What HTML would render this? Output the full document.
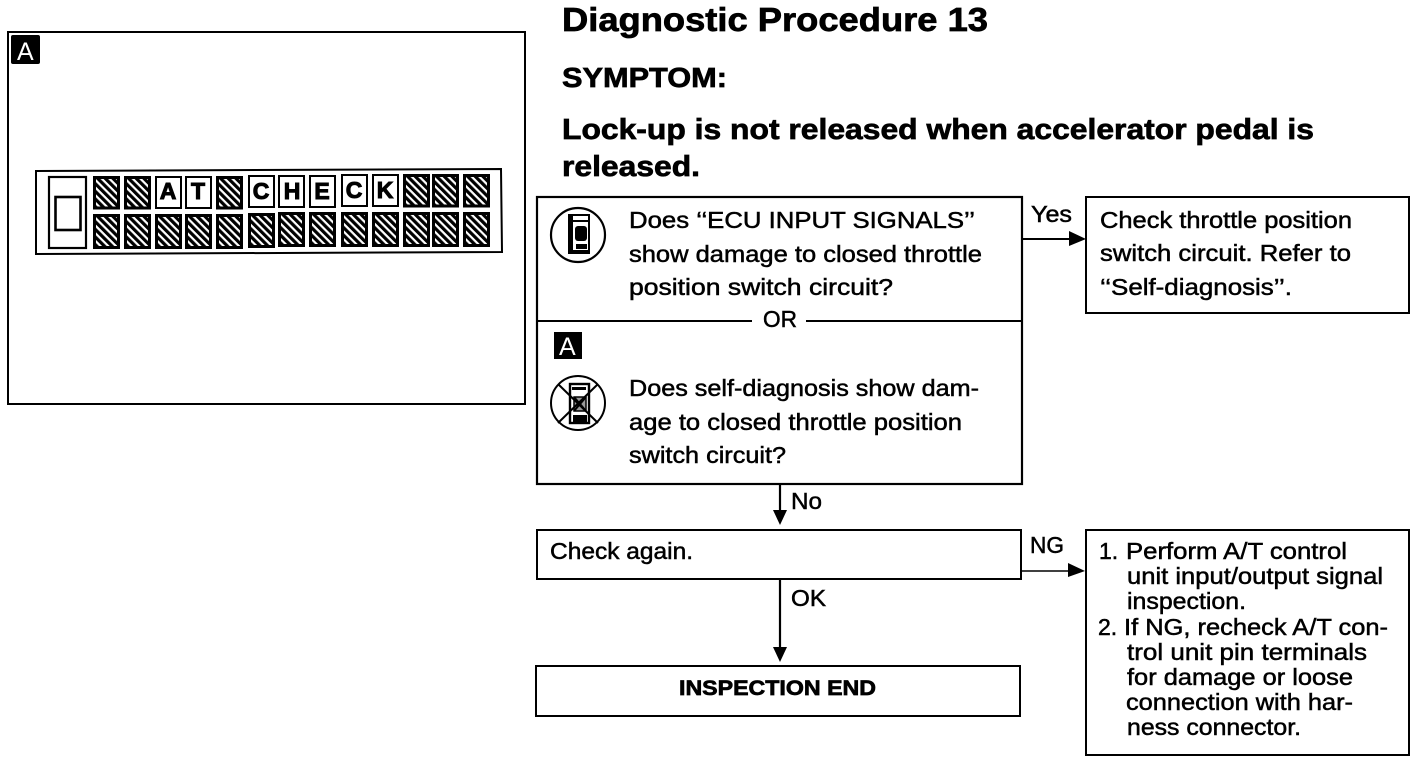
<!DOCTYPE html>
<html><head><meta charset="utf-8"><style>
html,body{margin:0;padding:0;background:#fff}
svg{display:block}
text{font-family:"Liberation Sans",sans-serif;fill:#000;font-size:23px;stroke:#000;stroke-width:.5px}
.h{font-weight:bold;stroke-width:.7px}
</style></head><body>
<svg width="1424" height="764" viewBox="0 0 1424 764" xmlns="http://www.w3.org/2000/svg">
<defs>
<pattern id="p" width="5.4" height="5.4" patternUnits="userSpaceOnUse" patternTransform="rotate(45)">
<rect width="5.4" height="5.4" fill="#000"/><rect y="0" width="5.4" height="2.2" fill="#fff"/>
</pattern>
<symbol id="c" overflow="visible"><rect x="1.5" y="1.5" width="24" height="30.5" fill="url(#p)" stroke="#000" stroke-width="3"/></symbol>
<symbol id="d" overflow="visible"><rect x="1.5" y="1.5" width="24" height="32" fill="url(#p)" stroke="#000" stroke-width="3"/></symbol>
<symbol id="l" overflow="visible"><rect x="1" y="1" width="25" height="31" fill="#fff" stroke="#000" stroke-width="2"/></symbol>
</defs>
<rect width="1424" height="764" fill="#fff"/>

<!-- left panel -->
<rect x="8" y="32" width="517" height="372" fill="none" stroke="#000" stroke-width="2"/>
<rect x="11" y="35" width="29" height="29" rx="2" fill="#000"/>
<text x="17" y="60" style="fill:#fff;stroke:none;font-size:25px">A</text>
<path d="M36 171L501 169L502 252L36 254Z" fill="none" stroke="#000" stroke-width="2"/>
<rect x="49" y="177" width="37" height="71" fill="none" stroke="#000" stroke-width="2.2"/>
<rect x="55.5" y="197" width="25" height="33" fill="none" stroke="#000" stroke-width="2.6"/>

<use href="#c" x="93" y="176"/><use href="#c" x="124" y="176"/>
<use href="#l" x="155" y="176"/><use href="#l" x="185" y="176"/>
<use href="#c" x="216" y="176"/><use href="#l" x="248" y="175"/>
<use href="#l" x="278" y="175"/><use href="#l" x="309" y="175"/>
<use href="#l" x="341" y="174"/><use href="#l" x="372" y="174"/>
<use href="#c" x="403" y="174"/><use href="#c" x="432" y="174"/><use href="#c" x="463" y="174"/>
<use href="#d" x="93" y="214"/><use href="#d" x="124" y="214"/><use href="#d" x="155" y="214"/>
<use href="#d" x="185" y="214"/><use href="#d" x="216" y="214"/><use href="#d" x="248" y="213"/>
<use href="#d" x="278" y="212"/><use href="#d" x="309" y="212"/><use href="#d" x="341" y="212"/>
<use href="#d" x="372" y="212"/><use href="#d" x="403" y="212"/><use href="#d" x="432" y="212"/><use href="#d" x="463" y="212"/>
<g style="font-size:21px;font-weight:bold;text-anchor:middle">
<text x="168" y="199" style="stroke-width:1px">A</text><text x="198" y="199" style="stroke-width:1px">T</text><text x="261" y="199" style="stroke-width:1px">C</text>
<text x="292" y="199" style="stroke-width:1px">H</text><text x="322" y="199" style="stroke-width:1px">E</text><text x="354" y="198" style="stroke-width:1px">C</text><text x="385" y="198" style="stroke-width:1px">K</text>
</g>

<!-- headings -->
<text class="h" x="562" y="31" textLength="426" lengthAdjust="spacingAndGlyphs" style="font-size:33px">Diagnostic Procedure 13</text>
<text class="h" x="562" y="87" textLength="165" lengthAdjust="spacingAndGlyphs" style="font-size:28px">SYMPTOM:</text>
<text class="h" x="562" y="139" textLength="752" lengthAdjust="spacingAndGlyphs" style="font-size:29px">Lock-up is not released when accelerator pedal is</text>
<text class="h" x="562" y="176" textLength="138" lengthAdjust="spacingAndGlyphs" style="font-size:29px">released.</text>

<!-- main box -->
<rect x="537" y="197" width="485" height="287" fill="none" stroke="#000" stroke-width="2.2"/>
<path d="M537 321H752M806 321H1022" stroke="#000" stroke-width="2" fill="none"/>
<text x="763" y="327" textLength="34" lengthAdjust="spacingAndGlyphs">OR</text>

<circle cx="578" cy="235" r="27" fill="none" stroke="#000" stroke-width="2.2"/>
<rect x="568" y="214" width="22" height="40" fill="#000"/>
<rect x="573" y="216" width="15" height="34" fill="#fff"/>
<rect x="573" y="220" width="15" height="2" fill="#000"/>
<rect x="575" y="226" width="12" height="15" rx="3" fill="#000"/>
<rect x="576" y="244" width="11" height="5" fill="#000"/>

<rect x="554" y="332" width="28" height="27" fill="#000"/>
<text x="559" y="355" style="fill:#fff;stroke:none;font-size:25px">A</text>

<circle cx="578" cy="403" r="27" fill="none" stroke="#000" stroke-width="2"/>
<rect x="570" y="384" width="19" height="39" fill="#fff" stroke="#000" stroke-width="2.4"/>
<rect x="574" y="397" width="12" height="14" fill="#999" stroke="#000" stroke-width="1.5"/>
<rect x="573" y="415" width="14" height="7" fill="#000"/>
<rect x="572" y="387" width="14" height="3" fill="#000"/>
<path d="M558 384L598 423M598 384L558 423M574 397L586 411M586 397L574 411" stroke="#000" stroke-width="2" fill="none"/>

<text x="629" y="228" textLength="346" lengthAdjust="spacingAndGlyphs">Does ‘‘ECU INPUT SIGNALS’’</text>
<text x="629" y="262" textLength="353" lengthAdjust="spacingAndGlyphs">show damage to closed throttle</text>
<text x="629" y="295" textLength="264" lengthAdjust="spacingAndGlyphs">position switch circuit?</text>
<text x="629" y="396" textLength="350" lengthAdjust="spacingAndGlyphs">Does self-diagnosis show dam-</text>
<text x="629" y="430" textLength="333" lengthAdjust="spacingAndGlyphs">age to closed throttle position</text>
<text x="629" y="463" textLength="157" lengthAdjust="spacingAndGlyphs">switch circuit?</text>

<!-- yes -->
<text x="1031" y="222" textLength="41" lengthAdjust="spacingAndGlyphs">Yes</text>
<path d="M1022 239H1072" stroke="#000" stroke-width="2"/>
<path d="M1069 231L1086 239L1069 246Z" fill="#000"/>
<rect x="1086" y="197" width="323" height="116" fill="none" stroke="#000" stroke-width="2"/>
<text x="1100" y="228" textLength="252" lengthAdjust="spacingAndGlyphs">Check throttle position</text>
<text x="1100" y="261" textLength="251" lengthAdjust="spacingAndGlyphs">switch circuit. Refer to</text>
<text x="1100" y="295" textLength="192" lengthAdjust="spacingAndGlyphs">‘‘Self-diagnosis’’.</text>

<!-- no -->
<path d="M780 484V515" stroke="#000" stroke-width="2.2"/>
<path d="M773 510L787 510L780 525Z" fill="#000"/>
<text x="791" y="509" textLength="31" lengthAdjust="spacingAndGlyphs">No</text>

<!-- check again -->
<rect x="537" y="530" width="484" height="49" fill="none" stroke="#000" stroke-width="2"/>
<text x="550" y="559" textLength="143" lengthAdjust="spacingAndGlyphs">Check again.</text>
<text x="1030" y="553" textLength="34" lengthAdjust="spacingAndGlyphs">NG</text>
<path d="M1022 571H1072" stroke="#000" stroke-width="1.5"/>
<path d="M1068 563L1085 571L1068 577Z" fill="#000"/>

<!-- ok -->
<path d="M780 580V650" stroke="#000" stroke-width="2.2"/>
<path d="M773 647L787 647L780 662Z" fill="#000"/>
<text x="791" y="606" textLength="35" lengthAdjust="spacingAndGlyphs">OK</text>

<!-- end -->
<rect x="536" y="666" width="484" height="50" fill="none" stroke="#000" stroke-width="2"/>
<text class="h" x="679" y="695" textLength="197" lengthAdjust="spacingAndGlyphs" style="font-size:21px">INSPECTION END</text>

<!-- right lower -->
<rect x="1086" y="530" width="323" height="225" fill="none" stroke="#000" stroke-width="2"/>
<text x="1099" y="559">1.</text>
<text x="1126" y="559" textLength="221" lengthAdjust="spacingAndGlyphs">Perform A/T control</text>
<text x="1127" y="584" textLength="256" lengthAdjust="spacingAndGlyphs">unit input/output signal</text>
<text x="1127" y="609" textLength="119" lengthAdjust="spacingAndGlyphs">inspection.</text>
<text x="1098" y="635">2.</text>
<text x="1124" y="635" textLength="264" lengthAdjust="spacingAndGlyphs">If NG, recheck A/T con-</text>
<text x="1127" y="660" textLength="240" lengthAdjust="spacingAndGlyphs">trol unit pin terminals</text>
<text x="1127" y="685" textLength="226" lengthAdjust="spacingAndGlyphs">for damage or loose</text>
<text x="1126" y="710" textLength="227" lengthAdjust="spacingAndGlyphs">connection with har-</text>
<text x="1127" y="735" textLength="174" lengthAdjust="spacingAndGlyphs">ness connector.</text>
</svg>
</body></html>
